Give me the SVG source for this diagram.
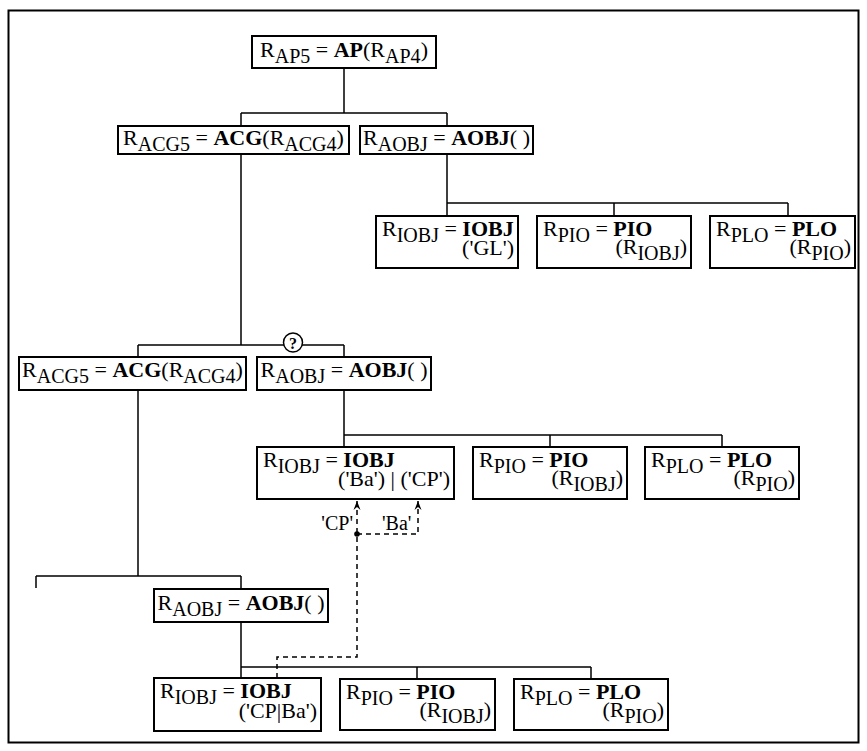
<svg xmlns="http://www.w3.org/2000/svg" width="867" height="751" viewBox="0 0 867 751">
<style>
text{font-family:"Liberation Serif","Times New Roman",serif;font-size:22px;fill:#000}
.s{font-size:20px}
.b{font-weight:bold}
.e{text-anchor:end}
.box{fill:#fff;stroke:#000;stroke-width:2}
.c{fill:none;stroke:#000;stroke-width:1.5}
.d{fill:none;stroke:#000;stroke-width:1.5;stroke-dasharray:5,4}
.lbl{font-size:20px}
</style>
<defs>
<marker id="ah" markerUnits="userSpaceOnUse" markerWidth="12" markerHeight="10" refX="0" refY="0" viewBox="-10 -5 12 10" orient="auto" overflow="visible">
<path d="M0,0 L-9,-3.5 L-6,0 L-9,3.5 z" fill="#000"/>
</marker>
</defs>
<rect x="0" y="0" width="867" height="751" fill="#fff"/>
<rect x="8.5" y="10.5" width="850" height="732" fill="none" stroke="#000" stroke-width="2"/>
<g id="connectors">
<path class="c" d="M344,68 V113 M241,113 H447 M241,113 V126 M447,113 V126"/>
<path class="c" d="M447,154 V203 M447,203 H788 M447,203 V216 M614,203 V216 M788,203 V216"/>
<path class="c" d="M241,154 V345 M138,345 H344 M138,345 V357 M344,345 V357"/>
<path class="c" d="M344,390 V435 M344,435 H722 M344,435 V447 M550,435 V447 M722,435 V447"/>
<path class="c" d="M138,390 V576 M36,576 H241 M36,576 V588 M241,576 V589"/>
<path class="c" d="M241,622 V667 M241,667 H591 M241,667 V678 M417,667 V679 M591,667 V679"/>
<path class="d" d="M277,678 V657 H357 V501" marker-end="url(#ah)"/>
<path class="d" d="M357,534 H418 V501" marker-end="url(#ah)"/>
<circle cx="357" cy="534" r="2.8" fill="#000"/>
<text class="lbl" x="353" y="530" text-anchor="end">'CP'</text>
<text class="lbl" x="382" y="530">'Ba'</text>
</g>
<g id="q">
<circle cx="293" cy="342.5" r="9.5" fill="#fff" stroke="#000" stroke-width="1.5"/>
<text x="293" y="348.5" text-anchor="middle" style="font-size:16px;font-weight:bold">?</text>
</g>
<g id="n_ap5">
<rect class="box" x="252" y="36" width="184" height="32"/>
<text x="344" y="57" text-anchor="middle">R<tspan class="s" dy="6">AP5</tspan><tspan dy="-6"> = </tspan><tspan class="b">AP</tspan>(R<tspan class="s" dy="6">AP4</tspan><tspan dy="-6">)</tspan></text>
</g>
<g id="n_acg5_1">
<rect class="box" x="118" y="126" width="231" height="28"/>
<text x="233.5" y="145" text-anchor="middle">R<tspan class="s" dy="6">ACG5</tspan><tspan dy="-6"> = </tspan><tspan class="b">ACG</tspan>(R<tspan class="s" dy="6">ACG4</tspan><tspan dy="-6">)</tspan></text>
</g>
<g id="n_aobj_1">
<rect class="box" x="360" y="126" width="173" height="28"/>
<text x="446.5" y="145" text-anchor="middle">R<tspan class="s" dy="6">AOBJ</tspan><tspan dy="-6"> = </tspan><tspan class="b">AOBJ</tspan>( )</text>
</g>
<g id="n_iobj_1">
<rect class="box" x="376" y="216" width="142" height="52"/>
<text><tspan x="382" y="236">R</tspan><tspan class="s" dy="6">IOBJ</tspan><tspan dy="-6"> = </tspan><tspan class="b">IOBJ</tspan><tspan class="e" x="514" y="255">('GL')</tspan></text>
</g>
<g id="n_pio_1">
<rect class="box" x="537" y="216" width="154" height="52"/>
<text><tspan x="543" y="236">R</tspan><tspan class="s" dy="6">PIO</tspan><tspan dy="-6"> = </tspan><tspan class="b">PIO</tspan><tspan class="e" x="687" y="254">(R<tspan class="s" dy="6">IOBJ</tspan><tspan dy="-6">)</tspan></tspan></text>
</g>
<g id="n_plo_1">
<rect class="box" x="710" y="216" width="145" height="52"/>
<text><tspan x="716" y="236">R</tspan><tspan class="s" dy="6">PLO</tspan><tspan dy="-6"> = </tspan><tspan class="b">PLO</tspan><tspan class="e" x="851" y="254">(R<tspan class="s" dy="6">PIO</tspan><tspan dy="-6">)</tspan></tspan></text>
</g>
<g id="n_acg5_2">
<rect class="box" x="19" y="357" width="227" height="33"/>
<text x="132.5" y="377" text-anchor="middle">R<tspan class="s" dy="6">ACG5</tspan><tspan dy="-6"> = </tspan><tspan class="b">ACG</tspan>(R<tspan class="s" dy="6">ACG4</tspan><tspan dy="-6">)</tspan></text>
</g>
<g id="n_aobj_2">
<rect class="box" x="257" y="357" width="174" height="33"/>
<text x="344" y="377" text-anchor="middle">R<tspan class="s" dy="6">AOBJ</tspan><tspan dy="-6"> = </tspan><tspan class="b">AOBJ</tspan>( )</text>
</g>
<g id="n_iobj_2">
<rect class="box" x="257" y="447" width="197" height="52"/>
<text><tspan x="263" y="467">R</tspan><tspan class="s" dy="6">IOBJ</tspan><tspan dy="-6"> = </tspan><tspan class="b">IOBJ</tspan><tspan class="e" x="450" y="486">('Ba') | ('CP')</tspan></text>
</g>
<g id="n_pio_2">
<rect class="box" x="473" y="447" width="154" height="52"/>
<text><tspan x="479" y="467">R</tspan><tspan class="s" dy="6">PIO</tspan><tspan dy="-6"> = </tspan><tspan class="b">PIO</tspan><tspan class="e" x="623" y="485">(R<tspan class="s" dy="6">IOBJ</tspan><tspan dy="-6">)</tspan></tspan></text>
</g>
<g id="n_plo_2">
<rect class="box" x="645" y="447" width="154" height="52"/>
<text><tspan x="651" y="467">R</tspan><tspan class="s" dy="6">PLO</tspan><tspan dy="-6"> = </tspan><tspan class="b">PLO</tspan><tspan class="e" x="795" y="485">(R<tspan class="s" dy="6">PIO</tspan><tspan dy="-6">)</tspan></tspan></text>
</g>
<g id="n_aobj_3">
<rect class="box" x="154" y="589" width="174" height="33"/>
<text x="241" y="610" text-anchor="middle">R<tspan class="s" dy="6">AOBJ</tspan><tspan dy="-6"> = </tspan><tspan class="b">AOBJ</tspan>( )</text>
</g>
<g id="n_iobj_3">
<rect class="box" x="154" y="678" width="167" height="53"/>
<text><tspan x="160" y="698">R</tspan><tspan class="s" dy="6">IOBJ</tspan><tspan dy="-6"> = </tspan><tspan class="b">IOBJ</tspan><tspan class="e" x="317" y="718">('CP|Ba')</tspan></text>
</g>
<g id="n_pio_3">
<rect class="box" x="340" y="679" width="155" height="51"/>
<text><tspan x="346" y="699">R</tspan><tspan class="s" dy="6">PIO</tspan><tspan dy="-6"> = </tspan><tspan class="b">PIO</tspan><tspan class="e" x="491" y="717">(R<tspan class="s" dy="6">IOBJ</tspan><tspan dy="-6">)</tspan></tspan></text>
</g>
<g id="n_plo_3">
<rect class="box" x="514" y="679" width="154" height="51"/>
<text><tspan x="520" y="699">R</tspan><tspan class="s" dy="6">PLO</tspan><tspan dy="-6"> = </tspan><tspan class="b">PLO</tspan><tspan class="e" x="664" y="717">(R<tspan class="s" dy="6">PIO</tspan><tspan dy="-6">)</tspan></tspan></text>
</g>
</svg>
